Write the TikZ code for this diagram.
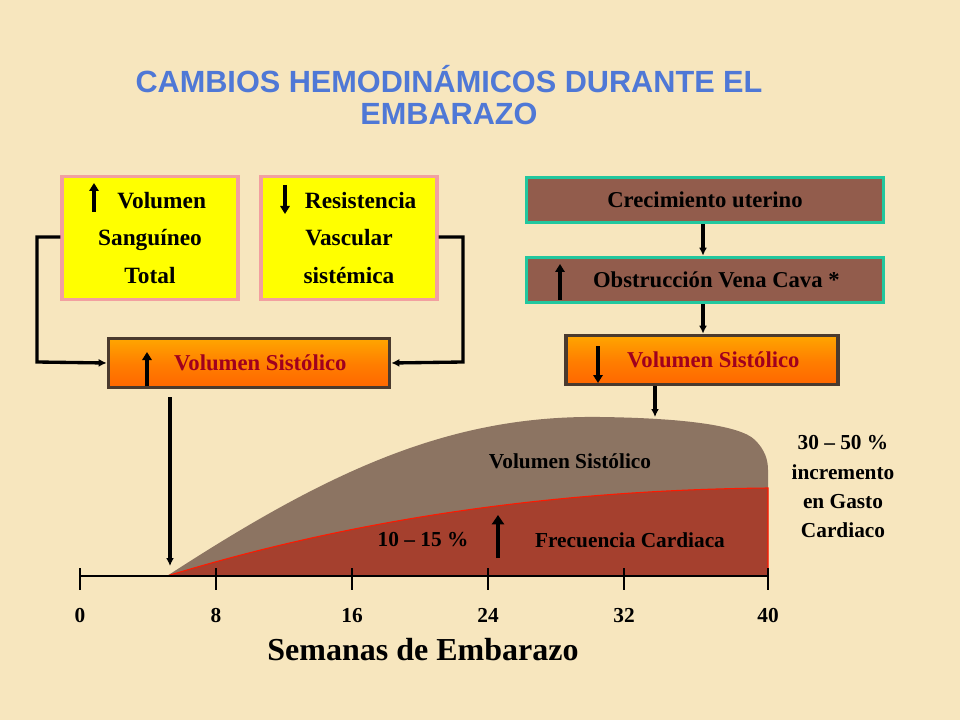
\documentclass[tikz,border=0pt]{standalone}
\usepackage{fontspec}
\setmainfont{Liberation Serif}
\newfontfamily\titlefont{Liberation Sans}
\usetikzlibrary{arrows.meta}
\definecolor{bg}{HTML}{F7E6BE}
\definecolor{ybox}{HTML}{FFFF00}
\definecolor{pinkb}{HTML}{F2A0A0}
\definecolor{brownbox}{HTML}{925C4C}
\definecolor{tealb}{HTML}{22C79E}
\definecolor{darkred}{HTML}{A0001E}
\definecolor{orbord}{HTML}{4A3A2E}
\definecolor{titleblue}{HTML}{4F78D6}
\definecolor{areabrown}{HTML}{8C7462}
\definecolor{areared}{HTML}{A5402E}
\tikzset{
  ybx/.style={draw=pinkb,line width=2.5pt,fill=ybox,minimum width=132pt,minimum height=92pt,align=center,font=\bfseries\fontsize{17.5}{28}\selectfont},
  bbx/.style={draw=tealb,line width=2.5pt,fill=brownbox,minimum width=268pt,minimum height=34pt,font=\bfseries\fontsize{17}{20}\selectfont},
  obx/.style={draw=orbord,line width=2.5pt,top color=orange!70!yellow,bottom color=orange!80!red,middle color=orange,minimum height=37pt,font=\bfseries\fontsize{17}{20}\selectfont,text=darkred},
  conn/.style={line width=2.5pt,-{Latex[length=6pt,width=6pt]}},
  icon/.style={line width=2.5pt,-{Triangle[length=6pt,width=7pt]}},
  lbl/.style={font=\bfseries\fontsize{16}{22}\selectfont,align=center},
  ttl/.style={font=\titlefont\bfseries\fontsize{23}{26}\selectfont,text=titleblue,inner sep=1pt}
}
\begin{document}
\begin{tikzpicture}[x=0.75pt,y=-0.75pt]
\fill[bg] (0,0) rectangle (960,720);
\useasboundingbox (0,0) rectangle (960,720);
% title
\node[ttl] (t1) at (449,79) {CAMBIOS HEMODINÁMICOS DURANTE EL};
\node[ttl] (t2) at (449,114) {EMBARAZO};
% left boxes
\node[ybx] (vol) at (150,238) {\quad Volumen\\Sanguíneo\\Total};
\node[ybx] (res) at (349,238) {\quad Resistencia\\Vascular\\sistémica};
\draw[icon] (94,212) -- (94,183);
\draw[icon] (285,185) -- (285,214);
\node[obx,minimum width=211pt] (vsl) at (249,363) {\quad Volumen Sistólico};
\draw[icon] (147,386) -- (147,352);
\coordinate (cl1) at (37,237); \coordinate (cl2) at (37,362);
\coordinate (cr1) at (463,237); \coordinate (cr2) at (463,362);
\draw[conn] (vol.west|-cl1) -- (cl1) -- (cl2) -- (vsl.west);
\draw[conn] (res.east|-cr1) -- (cr1) -- (cr2) -- (vsl.east);
% right column
\node[bbx] (cre) at (705,200) {Crecimiento uterino};
\node[bbx] (obs) at (705,280) {\quad Obstrucción Vena Cava *};
\draw[icon] (560,300) -- (560,264);
\node[obx,minimum width=204pt] (vsr) at (702,360) {\quad Volumen Sistólico};
\draw[icon] (598,346) -- (598,383);
\draw[conn] (cre.south-|703,0) -- (obs.north-|703,0);
\draw[conn] (obs.south-|703,0) -- (vsr.north-|703,0);
% graph
\fill[areabrown] (167,576) .. controls (330,470) and (450,415) .. (600,417)
  .. controls (680,418) and (740,425) .. (755,440) .. controls (765,450) and (768,460) .. (768,470) -- (768,576) -- cycle;
\fill[areared] (167,576) .. controls (350,520) and (550,490) .. (768,488) -- (768,576) -- cycle;
\draw[red!80!orange,line width=0.8pt] (167,576) .. controls (350,520) and (550,490) .. (768,488) -- (768,576);
\coordinate (gtop) at (655,417);
\draw[conn] (vsr.south-|655,0) -- (gtop);
\coordinate (gstart) at (170,566);
\draw[conn] (170,397) -- (gstart);
\draw[line width=0.8pt] (80,576) -- (768,576);
\foreach \x/\l in {80/0,216/8,352/16,488/24,624/32,768/40}{
  \draw[line width=0.8pt] (\x,568) -- (\x,590);
  \node[lbl,anchor=base] (tk\l) at (\x,622) {\l};
}
\node[font=\bfseries\fontsize{24}{28}\selectfont] (sem) at (423,650) {Semanas de Embarazo};
\node[lbl] (vslab) at (570,461) {Volumen Sistólico};
\node[lbl] (pc) at (423,540) {10 – 15 \%};
\draw[line width=3pt,-{Triangle[length=7pt,width=9pt]},draw=black] (498,558) -- (498,515);
\node[lbl] (fc) at (630,540) {Frecuencia Cardiaca};
\node[lbl] (gc) at (843,487) {30 – 50 \%\\incremento\\en Gasto\\Cardiaco};
\end{tikzpicture}
\end{document}
